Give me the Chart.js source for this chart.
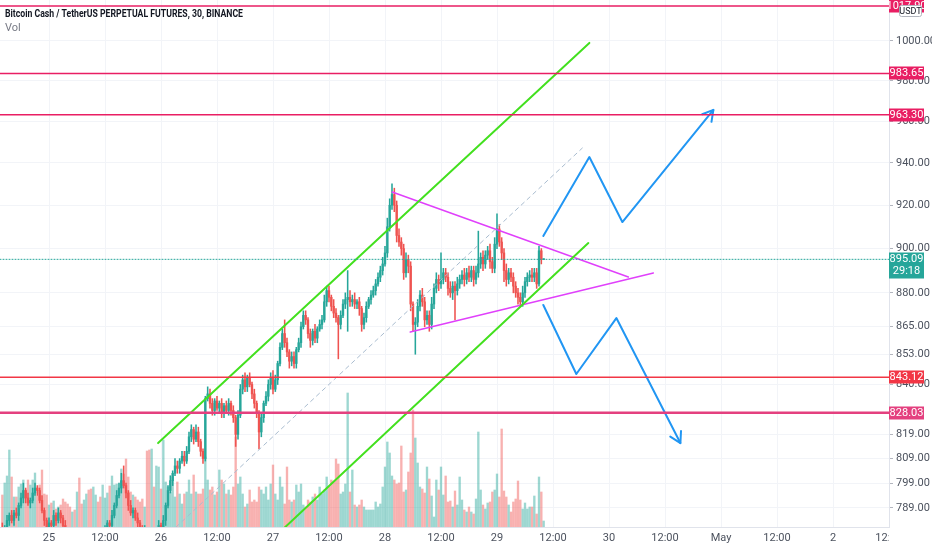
<!DOCTYPE html>
<html><head><meta charset="utf-8">
<script src="https://cdn.jsdelivr.net/npm/chart.js@4.4.0/dist/chart.umd.min.js"></script>
<style>
html,body{margin:0;padding:0;background:#fff;}
#wrap{position:relative;width:932px;height:550px;overflow:hidden;}
#title{position:absolute;left:5px;top:7px;font:bold 11px Roboto;color:#131722;white-space:nowrap;transform-origin:0 0;}
#vol{position:absolute;left:5px;top:21px;font:11px Roboto;color:#787b86;}
</style></head><body>
<div id="wrap"><canvas id="c" width="932" height="550"></canvas>
<div id="title">Bitcoin Cash / TetherUS PERPETUAL FUTURES, 30, BINANCE</div><div id="vol">Vol</div></div>
<script>
// time in hours since 24 Apr 00:00, 30-minute candles
const firstHour = 14;
const stepHours = 0.5;
const firstOpen = 781;
const closes = [
779,781,784,786,784,787,786,790,793,796,
793,791,792,795,797,796,792,788,784,781,
783,782,786,784,787,785,782,779,777,776,
778,775,777,776,774,776,778,777,775,776,
778,777,776,778,780,783,782,786,790,794,
797,800,798,795,790,787,788,785,783,781,
779,780,778,777,779,778,780,782,781,784,
790,796,800,803,806,805,808,810,808,812,
818,821,817,820,816,812,809,834,836,832,
829,833,830,832,828,831,829,832,829,826,
819,827,838,842,839,843,840,836,832,828,
820,826,832,835,840,843,838,842,849,856,
862,858,854,850,852,849,855,858,865,870,
868,862,859,863,860,864,866,868,876,881,
878,874,871,869,866,870,875,877,878,876,
877,875,876,873,866,869,874,877,879,881,
884,887,890,893,898,910,920,925,920,906,
903,900,889,895,892,875,866,867,874,879,
876,868,870,866,875,882,886,884,886,889,
887,882,880,883,881,884,886,888,886,889,
887,890,886,889,893,896,893,897,899,894,
891,902,909,903,898,890,886,889,887,883,
880,878,876,880,885,887,888,887,889,884,
899,895.0,895.09];
const upperWicks = [
2,1,2,1,2,1,2,1,2,3, 1,2,1,2,2,1,1,2,1,1, 2,1,2,1,2,1,1,2,1,1, 1,2,1,1,2,1,2,1,1,2,
1,2,1,1,2,1,1,2,1,2, 2,3,6,1,1,2,1,1,2,1, 1,2,1,1,2,1,1,2,1,2, 1,2,2,1,3,2,1,2,2,2,
2,2,1,3,2,1,1,1,3,2, 2,1,2,1,2,1,2,2,1,2, 1,2,2,2,3,1,2,1,2,1, 1,2,1,2,2,2,3,2,1,2,
2,6,2,1,2,2,1,2,2,2, 2,1,2,1,3,1,2,2,3,2, 2,1,3,2,1,2,2,3,12,3, 2,3,1,2,1,2,2,1,2,2,
2,2,2,3,3,4,3,5,3,2, 3,2,2,3,2,2,1,2,3,2, 3,2,2,2,3,2,3,2,12,2, 2,2,3,2,2,3,2,2,3,2,
3,2,2,3,15,2,3,2,2,3, 2,3,7,2,2,2,3,2,2,2, 2,2,2,3,2,2,2,3,2,2, 2,1,0];
const lowerWicks = [
1,2,1,2,1,2,1,2,1,2, 2,1,2,1,1,2,1,1,2,2, 1,2,1,2,1,2,2,1,2,1, 2,1,2,1,1,2,1,2,2,1,
2,1,2,1,1,2,2,1,1,1, 1,2,1,2,2,1,2,1,2,2, 2,1,2,2,1,2,1,1,2,2, 2,1,1,2,1,2,2,1,2,1,
1,2,2,1,2,2,2,1,1,2, 2,2,1,2,2,2,1,2,2,2, 5,2,1,2,2,2,1,2,2,2, 7,2,2,1,2,2,2,1,2,1,
1,2,2,3,2,2,2,1,2,1, 2,2,3,2,2,2,1,2,1,2, 2,2,2,2,15,2,1,2,14,2, 2,2,2,3,3,2,2,1,2,1,
2,1,2,2,1,2,2,2,3,3, 2,3,3,2,3,3,3,13,2,2, 2,3,2,3,2,2,2,3,2,2, 2,3,2,3,13,2,2,2,3,2,
2,2,3,2,2,2,3,2,2,3, 2,2,2,2,3,5,3,2,2,3, 2,3,2,2,2,2,2,2,2,2, 1,2,0];
const volumes = [
32,44,51,77,50,30,30,40,43,47, 37,47,42,47,54,31,42,57,33,32, 22,24,26,18,20,22,28,25,23,20,
15,17,35,49,23,27,33,37,38,40, 32,25,30,42,29,34,41,51,42,43, 37,58,53,68,50,35,32,30,27,25,
28,20,76,77,78,40,61,60,38,87, 45,40,35,50,30,45,
33,23,33,35,47,33,52,35,33,33, 38,70,47,37,40,32,35,57,47,43, 33,37,32,40,90,43,50,33,20,23,
37,25,27,25,40,37,33,40,27,43, 62,33,27,50,40,23,60,27,25,27, 42,35,43,22,20,27,25,30,33,27,
40,33,37,50,40,47,45,68,63,33, 35,43,134,35,57,22,20,22,
27,20,17,17,17,17,25,20,23,40, 60,85,74,51,47,43,44,81,35,37, 55,74,117,89,64,40,38,34,60,48,
31,10,47,37,60,32,51,25,26,20, 36,22,50,27,17,15,20,15,13,28, 95,37,22,18,24,25,35,37,53,30,
98,36,30,22,15,25,28,46,27,18, 24,18,20,20,31,13,50,35,6];

// axes
const xMin = 13.5, xMax = 204;
const yMin = 781.4, yMax = 1021.0;
const xTickHours  = [24,36,48,60,72,84,96,108,120,132,144,156,168,180,192];
const xTickLabels = ['25','12:00','26','12:00','27','12:00','28','12:00','29','12:00','30','12:00','May','12:00','2'];
const yTickValues = [789,799,809,819,840,853,865,880,900,920,940,960,980,1000];

// drawings (time in hours, price)
const levelPrices = [1017.90, 983.65, 963.30, 843.12, 828.03];
const levelColors = ['#e91e63','#e91e63','#e91e63','#f23645','#e4407f'];
const levelWidths = [1.5,1.5,1.5,1.5,2.5];
const lastPrice = 895.09, countdown = '29:18';
const channelUpper = [[47.38,815.4],[139.79,999.0]];
const channelLower = [[71.39,775.8],[139.57,902.5]];
const channelMid   = [[51.24,781.4],[138.29,947.1]];
const triUpper = [[97.55,926.2],[148.15,887.1]];
const triLower = [[101.41,862.7],[153.51,888.9]];
const arrowUp = [[129.92,905.8],[139.79,942.8],[146.86,912.2],[166.37,965.6]];
const arrowUpHead = [[163.97,963.5],[166.37,965.6],[165.96,959.8]];
const arrowDown = [[129.92,874.6],[137.0,844.5],[145.58,868.8],[159.3,815.4]];
const arrowDownHead = [[157.13,818.1],[159.3,815.4],[159.43,820.4]];

const UP='#26a69a', DN='#ef5350', UPV='rgba(38,166,154,0.45)', DNV='rgba(239,83,80,0.45)';
const times = closes.map((c,i)=>firstHour+stepHours*i);
const opens = closes.map((c,i)=> i===0 ? firstOpen : closes[i-1]);
const ups = closes.map((c,i)=> c>=opens[i]);
const highs = closes.map((c,i)=>Math.max(c,opens[i])+upperWicks[i]);
const lows = closes.map((c,i)=>Math.min(c,opens[i])-lowerWicks[i]);

function pts(a){return a.map(p=>({x:p[0],y:p[1]}));}
function lineDs(a,color,width,dash){return {type:'line',data:pts(a),borderColor:color,borderWidth:width,borderDash:dash||[],pointRadius:0,fill:false,tension:0,yAxisID:'y',order:0,borderCapStyle:'round',borderJoinStyle:'round'};}

const datasets = [];
levelPrices.forEach((p,i)=>datasets.push(lineDs([[xMin,p],[xMax,p]],levelColors[i],levelWidths[i])));
datasets.push(lineDs([[xMin,lastPrice],[xMax,lastPrice]],UP,1,[1,2]));
datasets.push(lineDs(channelUpper,'#43e01f',2));
datasets.push(lineDs(channelLower,'#43e01f',2));
datasets.push(lineDs(channelMid,'#a9bccf',1,[4,4]));
datasets.push(lineDs(triUpper,'#e040fb',1.5));
datasets.push(lineDs(triLower,'#e040fb',1.5));
datasets.push(lineDs(arrowUp,'#2196f3',2));
datasets.push(lineDs(arrowUpHead,'#2196f3',2));
datasets.push(lineDs(arrowDown,'#2196f3',2));
datasets.push(lineDs(arrowDownHead,'#2196f3',2));
datasets.push({type:'bar',data:closes.map((c,i)=>({x:times[i],y:[opens[i],c]})),backgroundColor:ups.map(u=>u?UP:DN),barThickness:1.7,minBarLength:1,grouped:false,yAxisID:'y',order:1});
datasets.push({type:'bar',data:closes.map((c,i)=>({x:times[i],y:[lows[i],highs[i]]})),backgroundColor:ups.map(u=>u?UP:DN),barThickness:0.9,grouped:false,yAxisID:'y',order:2});
datasets.push({type:'bar',data:volumes.map((v,i)=>({x:times[i],y:v})),backgroundColor:ups.map(u=>u?UPV:DNV),barThickness:1.7,grouped:false,yAxisID:'yv',order:3});

Chart.defaults.font.family = 'Roboto';
Chart.defaults.font.size = 11;

function noPad(s){s.paddingTop=0;s.paddingBottom=0;s.paddingLeft=0;s.paddingRight=0;}

const overlay = {
  id:'overlay',
  afterDraw(chart){
    const ctx=chart.ctx, ys=chart.scales.y, a=chart.chartArea;
    ctx.save();
    ctx.font='11px Roboto';
    ctx.textAlign='center'; ctx.textBaseline='middle';
    levelPrices.forEach((p,i)=>{
      const py=Math.round(ys.getPixelForValue(p));
      ctx.fillStyle=levelColors[i];
      ctx.fillRect(a.right,py-6.5,35,13);
      ctx.fillStyle='#fff';
      ctx.fillText(p.toFixed(2),a.right+17.5,py+0.5);
    });
    const lp=Math.round(ys.getPixelForValue(lastPrice));
    ctx.fillStyle=UP;
    ctx.fillRect(a.right,lp-6.5,35,26);
    ctx.fillStyle='#fff';
    ctx.fillText(lastPrice.toFixed(2),a.right+17.5,lp+0.5);
    ctx.fillText(countdown,a.right+17.5,lp+12.5);
    // currency badge
    ctx.fillStyle='#fff'; ctx.strokeStyle='#b2b5be'; ctx.lineWidth=1;
    ctx.beginPath(); ctx.roundRect(899.5,5.5,22,11,2); ctx.fill(); ctx.stroke();
    ctx.fillStyle='#131722'; ctx.font='9px Roboto';
    ctx.fillText('USDT',910.5,11.5);
    // last, partially hidden time label
    ctx.beginPath(); ctx.rect(0,a.bottom,a.right,30); ctx.clip();
    ctx.font='11px Roboto'; ctx.fillStyle='#4c525e';
    ctx.fillText('12:00',chart.scales.x.getPixelForValue(204),538);
    ctx.restore();
  }
};

new Chart(document.getElementById('c'),{
  data:{datasets},
  options:{
    responsive:false, animation:false, events:[],
    layout:{padding:0},
    plugins:{legend:{display:false},tooltip:{enabled:false}},
    scales:{
      x:{type:'linear',min:xMin,max:xMax,offset:false,bounds:'data',
        afterBuildTicks:s=>{s.ticks=xTickHours.map(v=>({value:v}));},
        afterFit:s=>{s.height=23;noPad(s);},
        ticks:{autoSkip:false,maxRotation:0,padding:5,color:'#4c525e',callback:v=>{const k=xTickHours.indexOf(v);return k>=0?xTickLabels[k]:'';}},
        grid:{color:'#f2f4f8',drawTicks:false,offset:false},
        border:{color:'#e0e3eb'}},
      y:{type:'logarithmic',position:'right',min:yMin,max:yMax,bounds:'data',
        afterBuildTicks:s=>{s.ticks=yTickValues.map(v=>({value:v}));},
        afterFit:s=>{s.width=43;noPad(s);},
        ticks:{autoSkip:false,padding:3,color:'#4c525e',callback:v=>Number(v).toFixed(2)},
        grid:{color:'#f2f4f8',tickLength:4,tickColor:'#b2b5be'},
        border:{color:'#e0e3eb'}},
      yv:{type:'linear',display:false,min:0,max:527,afterFit:noPad}
    }
  },
  plugins:[overlay]
});

// fit the header to the width it has in the original
const t = document.getElementById('title');
const w = t.getBoundingClientRect().width;
t.style.transform = 'scaleX(' + (238 / w) + ')';
</script>
</body></html>
